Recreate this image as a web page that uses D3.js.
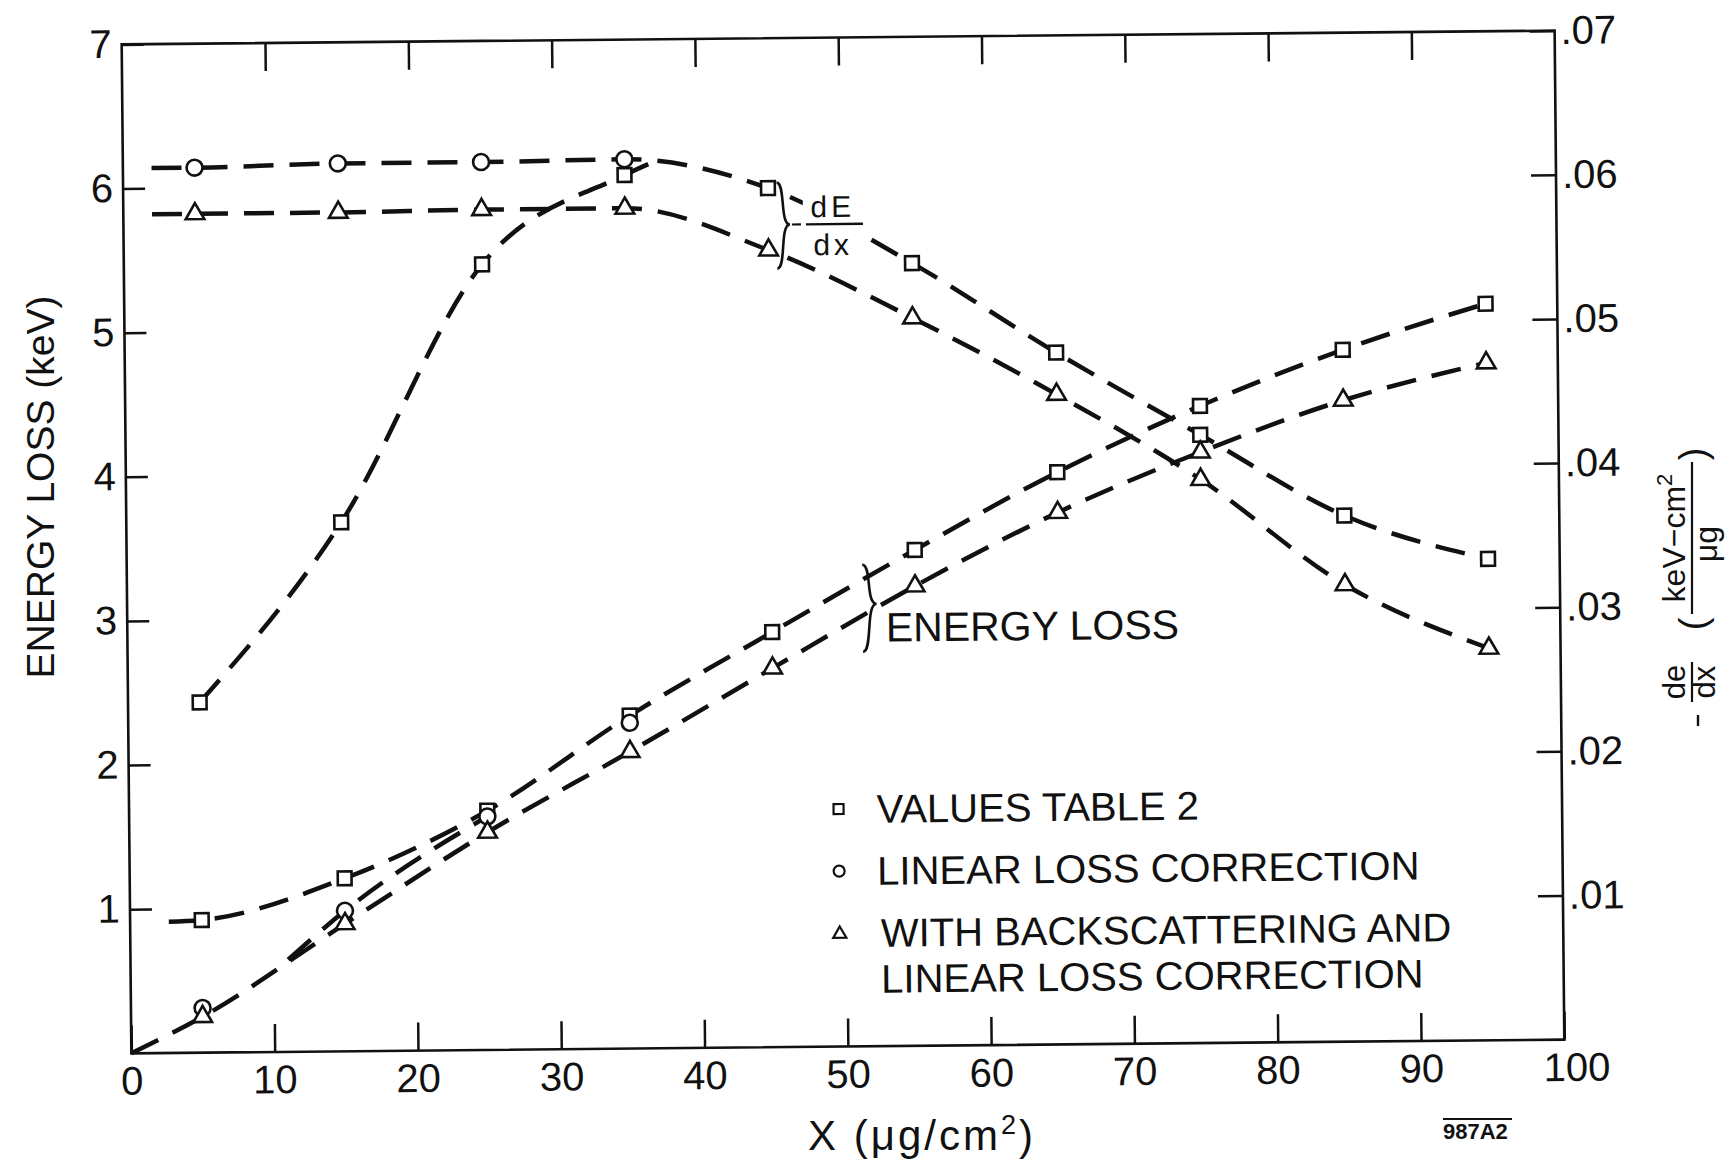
<!DOCTYPE html>
<html>
<head>
<meta charset="utf-8">
<script src="https://cdn.jsdelivr.net/npm/d3@7"></script>
<style>
  body { margin: 0; background: #fff; }
  svg text { font-family: "Liberation Sans", Arial, sans-serif; fill: #111; }
</style>
</head>
<body>
<script>
// X (ug/cm2) where the points were measured
var xValues = [5, 15, 25, 35, 45, 55, 65, 75, 85, 95];

// energy loss in keV (left axis)
var lossTable  = [0.92, 1.20, 1.66, 2.31, 2.88, 3.44, 3.97, 4.42, 4.80, 5.11];
var lossLinear = [0.31, 0.975, 1.62, 2.26];
var lossBack   = [0.25, 0.885, 1.51, 2.06, 2.63, 3.19, 3.69, 4.10, 4.45, 4.70];

// -dE/dx in keV cm2/ug (right axis)
var dedxTable  = [0.0243, 0.0367, 0.0545, 0.0606, 0.0596, 0.0543, 0.0480, 0.0422, 0.0365, 0.0334];
var dedxLinear = [0.0614, 0.0616, 0.0616, 0.0617];
var dedxBack   = [0.0582, 0.0582, 0.0583, 0.0583, 0.0553, 0.0505, 0.0451, 0.0391, 0.0317, 0.0272];

// ends of the dashed curves that have no marker on them
var lossTableStart  = [2.7, 0.91];
var lossOrigin      = [0, 0];
var lossSplit       = [11, 0.64];   // circle curve leaves the triangle curve here
var dedxLinearStart = [2, 0.0614];
var dedxBackStart   = [2, 0.0582];
var dedxJoin        = [37.5, 0.0617];

var xTicks = [0, 10, 20, 30, 40, 50, 60, 70, 80, 90, 100];
var leftTicks = [1, 2, 3, 4, 5, 6, 7];
var rightTicks = [0.01, 0.02, 0.03, 0.04, 0.05, 0.06, 0.07];

var legendLabels = ["VALUES TABLE 2", "LINEAR LOSS CORRECTION", ["WITH BACKSCATTERING AND", "LINEAR LOSS CORRECTION"]];

var svg = d3.select("body")
    .append("svg")
    .attr("width", 1735)
    .attr("height", 1164);

svg.append("rect").attr("width", 1735).attr("height", 1164).attr("fill", "#fff");

// the scanned figure sits slightly tilted
var plot = svg.append("g").attr("transform", "rotate(-0.55,843,542)");

var x = d3.scaleLinear().domain([0, 100]).range([126.5, 1559.5]);
var yL = d3.scaleLinear().domain([0, 7]).range([1046.5, 37.5]);
var yR = d3.scaleLinear().domain([0, 0.07]).range([1046.5, 37.5]);

function styleAxis(g) {
  g.select(".domain").remove();
  g.attr("font-family", null).attr("font-size", null);
  g.selectAll(".tick line").attr("stroke", "#111").attr("stroke-width", 2.5);
  g.selectAll(".tick text").attr("fill", "#111").attr("font-size", 40);
}

plot.append("g")
  .attr("transform", "translate(" + x(0) + ",0)")
  .call(d3.axisLeft(yL).tickValues(leftTicks).tickSizeInner(-22).tickSizeOuter(0)
        .tickPadding(10).tickFormat(d3.format("d")))
  .call(styleAxis);

plot.append("g")
  .attr("transform", "translate(" + x(100) + ",0)")
  .call(d3.axisRight(yR).tickValues(rightTicks).tickSizeInner(-25).tickSizeOuter(0)
        .tickPadding(6).tickFormat(function(d){ return d3.format(".2f")(d).slice(1); }))
  .call(styleAxis);

var bottomAxis = plot.append("g")
  .attr("transform", "translate(0," + yL(0) + ")")
  .call(d3.axisBottom(x).tickValues(xTicks).tickSizeInner(-28).tickSizeOuter(0)
        .tickPadding(13).tickFormat(d3.format("d")))
  .call(styleAxis);
bottomAxis.selectAll(".tick text").attr("dx", function(d){ return d == 100 ? 12 : 0; });

plot.append("g")
  .attr("transform", "translate(0," + yL(7) + ")")
  .call(d3.axisTop(x).tickValues(xTicks.slice(1, -1)).tickSizeInner(-28).tickSizeOuter(0).tickFormat(""))
  .call(styleAxis);

plot.append("rect")
  .attr("x", x(0)).attr("y", yL(7))
  .attr("width", x(100) - x(0)).attr("height", yL(0) - yL(7))
  .attr("fill", "none").attr("stroke", "#111").attr("stroke-width", 2.6);

// dashed curves
function pts(vals, from, to) {
  return vals.slice(from, to).map(function(v, i){ return [xValues[from + i], v]; });
}
var lineL = d3.line().x(d => x(d[0])).y(d => yL(d[1])).curve(d3.curveMonotoneX);
var lineR = d3.line().x(d => x(d[0])).y(d => yR(d[1])).curve(d3.curveMonotoneX);

var curves = [
  lineR([dedxLinearStart].concat(pts(dedxLinear, 0, 4), pts(dedxTable, 4, 10))),
  lineR(pts(dedxTable, 0, 4).concat([dedxJoin])),
  lineR([dedxBackStart].concat(pts(dedxBack, 0, 10))),
  lineL([lossTableStart].concat(pts(lossTable, 0, 10))),
  lineL([lossSplit].concat(pts(lossLinear, 1, 3))),
  lineL([lossOrigin].concat(pts(lossBack, 0, 10)))
];

plot.selectAll("path.curve")
  .data(curves)
  .join("path")
  .attr("class", "curve")
  .attr("d", d => d)
  .attr("fill", "none")
  .attr("stroke", "#111")
  .attr("stroke-width", 4.5)
  .attr("stroke-dasharray", "30,16");

// markers
var sq = d3.symbol().type(d3.symbolSquare).size(190);
var ci = d3.symbol().type(d3.symbolCircle).size(200);
var tr = d3.symbol().type(d3.symbolTriangle).size(150);

function drawMarks(vals, scale, shape) {
  plot.append("g").selectAll("path")
    .data(vals)
    .join("path")
    .attr("transform", function(d, i){ return "translate(" + x(xValues[i]) + "," + scale(d) + ")"; })
    .attr("d", shape)
    .attr("fill", "#fff")
    .attr("stroke", "#111")
    .attr("stroke-width", 2.6);
}
drawMarks(dedxTable, yR, sq);
drawMarks(dedxLinear, yR, ci);
drawMarks(dedxBack, yR, tr);
drawMarks(lossTable, yL, sq);
drawMarks(lossLinear, yL, ci);
drawMarks(lossBack, yL, tr);

// braces and curve labels
function brace(x0, y0, y1, ym, w) {
  return "M" + x0 + "," + y0 +
    " C" + (x0 + w * 0.7) + "," + y0 + " " + (x0 + w * 0.2) + "," + ym + " " + (x0 + w) + "," + ym +
    " C" + (x0 + w * 0.2) + "," + ym + " " + (x0 + w * 0.7) + "," + y1 + " " + x0 + "," + y1;
}
// the dE/dx label sits in a gap of the upper curve
plot.append("rect").attr("x", 806).attr("y", 192).attr("width", 60).attr("height", 68).attr("fill", "#fff");
plot.append("path").attr("d", brace(780, 182, 268, 224, 13))
  .attr("fill", "none").attr("stroke", "#111").attr("stroke-width", 2.6);
plot.append("line").attr("x1", 795).attr("x2", 804).attr("y1", 224).attr("y2", 224)
  .attr("stroke", "#111").attr("stroke-width", 2.2);
plot.append("line").attr("x1", 809).attr("x2", 866).attr("y1", 224).attr("y2", 224)
  .attr("stroke", "#111").attr("stroke-width", 2.4);
plot.append("text").attr("x", 836).attr("y", 217).attr("text-anchor", "middle")
  .attr("font-size", 30).attr("letter-spacing", 4).text("dE");
plot.append("text").attr("x", 836).attr("y", 255).attr("text-anchor", "middle")
  .attr("font-size", 30).attr("letter-spacing", 4).text("dx");

plot.append("path").attr("d", brace(862, 565, 652, 604, 14))
  .attr("fill", "none").attr("stroke", "#111").attr("stroke-width", 2.6);
plot.append("text").attr("x", 885).attr("y", 642).attr("font-size", 41).text("ENERGY LOSS");

// legend
var legendShapes = [
  d3.symbol().type(d3.symbolSquare).size(100),
  d3.symbol().type(d3.symbolCircle).size(95),
  d3.symbol().type(d3.symbolTriangle).size(75)
];
var legendRowY = [823, 885, 947];
var legendMarkY = [809, 871, 934];

plot.append("g").selectAll("path")
  .data(legendShapes)
  .join("path")
  .attr("transform", function(d, i){ return "translate(836," + legendMarkY[i] + ")"; })
  .attr("d", d => d())
  .attr("fill", "#fff").attr("stroke", "#111").attr("stroke-width", 2.2);

plot.append("g").selectAll("text")
  .data(legendLabels)
  .join("text")
  .attr("x", function(d, i){ return i < 2 ? 874 : 877; })
  .attr("y", function(d, i){ return legendRowY[i]; })
  .attr("font-size", 40)
  .each(function(d) {
    var lines = Array.isArray(d) ? d : [d];
    var t = d3.select(this);
    lines.forEach(function(s, j) {
      t.append("tspan").attr("x", t.attr("x")).attr("dy", j ? 46 : 0).text(s);
    });
  });

// axis titles
svg.append("text")
  .attr("transform", "translate(40,487) rotate(-90)")
  .attr("text-anchor", "middle").attr("dy", "0.35em")
  .attr("font-size", 39)
  .text("ENERGY LOSS (keV)");

var xt = svg.append("text")
  .attr("x", 922).attr("y", 1150)
  .attr("text-anchor", "middle")
  .attr("font-size", 42).attr("letter-spacing", 3);
xt.append("tspan").text("X (\u03bcg/cm");
xt.append("tspan").attr("dy", -16).attr("font-size", 27).text("2");
xt.append("tspan").attr("dy", 16).text(")");

var rt = svg.append("g").attr("transform", "translate(1692,720) rotate(-90)");
rt.append("line").attr("x1", -6).attr("x2", 5).attr("y1", 6).attr("y2", 6)
  .attr("stroke", "#111").attr("stroke-width", 2.4);
rt.append("line").attr("x1", 18).attr("x2", 58).attr("y1", 0).attr("y2", 0)
  .attr("stroke", "#111").attr("stroke-width", 2.2);
rt.append("text").attr("x", 38).attr("y", -7).attr("text-anchor", "middle").attr("font-size", 31).text("de");
rt.append("text").attr("x", 38).attr("y", 23).attr("text-anchor", "middle").attr("font-size", 31).text("dx");
rt.append("text").attr("x", 96).attr("y", 14).attr("text-anchor", "middle").attr("font-size", 38).text("(");
var num = rt.append("text").attr("x", 182).attr("y", -7).attr("text-anchor", "middle").attr("font-size", 32);
num.append("tspan").text("keV\u2212cm");
num.append("tspan").attr("dy", -13).attr("font-size", 22).text("2");
rt.append("line").attr("x1", 106).attr("x2", 258).attr("y1", 0).attr("y2", 0)
  .attr("stroke", "#111").attr("stroke-width", 2.2);
rt.append("text").attr("x", 176).attr("y", 25).attr("text-anchor", "middle").attr("font-size", 32).text("\u03bcg");
rt.append("text").attr("x", 266).attr("y", 14).attr("text-anchor", "middle").attr("font-size", 38).text(")");

// figure code
svg.append("line").attr("x1", 1443).attr("x2", 1512).attr("y1", 1119).attr("y2", 1119)
  .attr("stroke", "#111").attr("stroke-width", 2);
svg.append("text").attr("x", 1443).attr("y", 1139)
  .attr("font-size", 22).attr("font-weight", "bold").text("987A2");
</script>
</body>
</html>
